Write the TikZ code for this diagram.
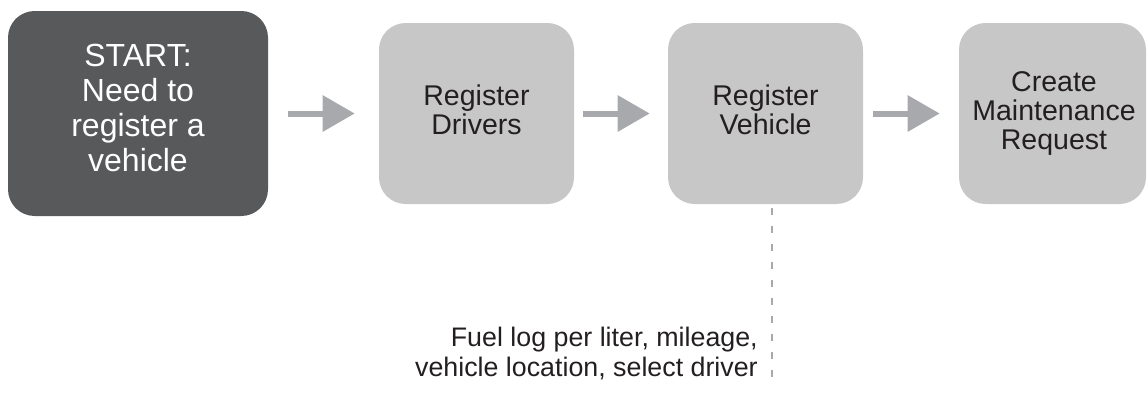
\documentclass[tikz,border=0pt]{standalone}
\usepackage{fontspec}
\setmainfont{Liberation Sans}
\usetikzlibrary{arrows.meta,calc}

\definecolor{darkbox}{HTML}{58595B}
\definecolor{lightbox}{HTML}{C7C7C7}
\definecolor{inktext}{HTML}{231F20}
\definecolor{flowgray}{HTML}{A7A9AC}

\tikzset{
  stepbox/.style={rectangle, rounded corners=20pt, inner sep=0pt,
    minimum width=146.25pt, minimum height=135.75pt, fill=lightbox, draw=none},
  startbox/.style={stepbox, fill=darkbox, minimum width=195pt, minimum height=153.75pt},
  steptext/.style={align=center, text=inktext, inner sep=0pt,
    font=\fontsize{21.4}{21.75}\selectfont},
  starttext/.style={align=center, text=white, inner sep=0pt,
    font=\fontsize{24}{26.25}\selectfont},
  notetext/.style={align=right, text=inktext, inner sep=0pt, anchor=east,
    font=\fontsize{20.1}{22.5}\selectfont},
  flow/.style={draw=flowgray, line width=4.5pt, line cap=butt,
    -{Triangle[length=24pt, width=26.25pt]}},
  note line/.style={draw=flowgray, line width=1.5pt, dash pattern=on 5.25pt off 8.25pt}
}

\begin{document}
\begin{tikzpicture}[x=0.75pt, y=-0.75pt]
  \useasboundingbox (0,0) rectangle (1147,393);

  % process boxes
  \node[startbox] (start) at (138,113.5) {};
  \node[stepbox] (drv) at (476.5,113.5) {};
  \node[stepbox] (veh) at (765.5,113.5) {};
  \node[stepbox, minimum width=140.25pt] (req) at (1052.5,113.5) {};

  % box captions
  \node[starttext] (startT) at (138,108) {START:\\Need to\\register a\\vehicle};
  \node[steptext] (drvT) at (476.5,110) {Register\\Drivers};
  \node[steptext] (vehT) at (765.5,110) {Register\\Vehicle};
  \node[steptext] (reqT) at (1054,113) {Create\\Maintenance\\Request};

  % flow arrows
  \draw[flow] ($(start.east)+(20,0)$) -- ($(drv.west)+(-24,0)$);
  \draw[flow] ($(drv.east)+(9,0)$) -- ($(veh.west)+(-18,0)$);
  \draw[flow] ($(veh.east)+(10,0)$) -- ($(req.west)+(-19,0)$);

  % vehicle details note
  \coordinate (ntop) at ($(veh.south)+(6.5,4)$);
  \coordinate (nbot) at (772,383);
  \draw[note line] (ntop) -- (nbot);
  \node[notetext] (note) at (758,353) {Fuel log per liter, mileage,\\vehicle location, select driver};
\end{tikzpicture}
\end{document}
